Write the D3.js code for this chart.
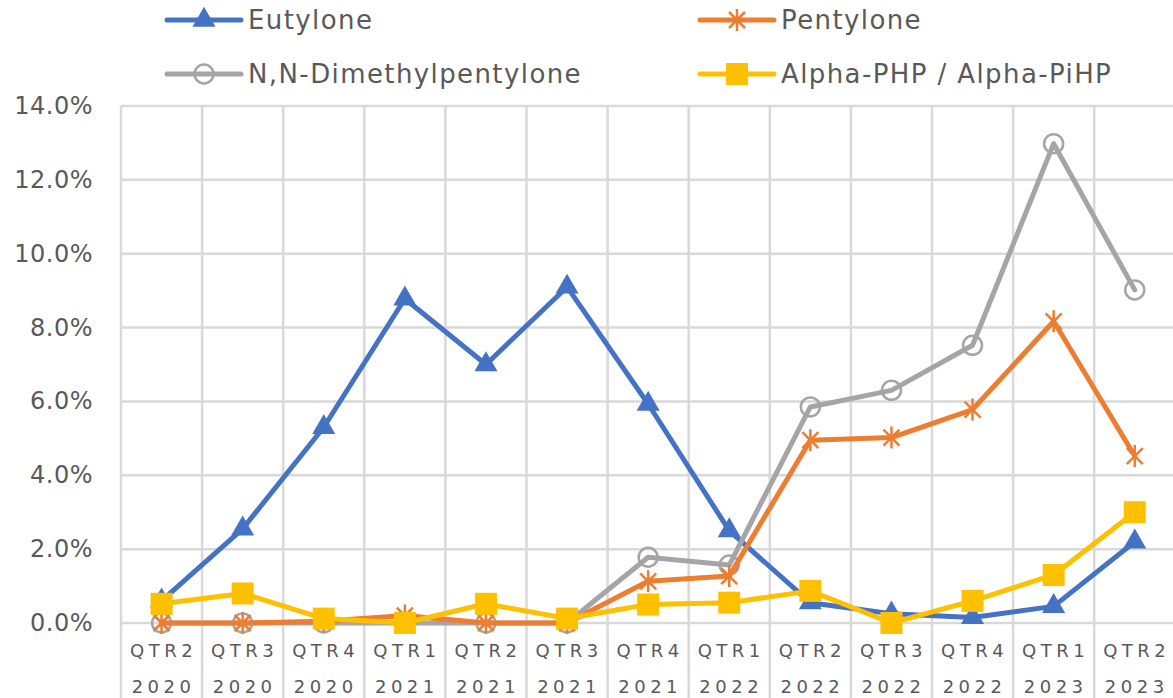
<!DOCTYPE html>
<html>
<head>
<meta charset="utf-8">
<script src="https://cdn.jsdelivr.net/npm/d3@7"></script>
<style>
  body { margin: 0; background: #fff; }
  svg text { font-family: "DejaVu Sans", sans-serif; fill: #595959; }
</style>
</head>
<body>
<svg id="chart" width="1173" height="698"></svg>
<script>
// quarters along the x axis
const quarters = ["QTR2", "QTR3", "QTR4", "QTR1", "QTR2", "QTR3", "QTR4", "QTR1", "QTR2", "QTR3", "QTR4", "QTR1", "QTR2"];
const years = ["2020", "2020", "2020", "2021", "2021", "2021", "2021", "2022", "2022", "2022", "2022", "2023", "2023"];

// share of samples, in percent
const eutylone = [0.6, 2.55, 5.3, 8.78, 7.0, 9.1, 5.93, 2.5, 0.55, 0.25, 0.15, 0.45, 2.2];
const pentylone = [0, 0, 0.05, 0.2, 0, 0, 1.13, 1.27, 4.95, 5.02, 5.78, 8.17, 4.52];
const dimethylpentylone = [0, 0, 0, 0, 0, 0, 1.78, 1.57, 5.85, 6.3, 7.52, 12.98, 9.02];
const alphaPHP = [0.52, 0.8, 0.12, 0.0, 0.52, 0.12, 0.5, 0.55, 0.87, 0.0, 0.6, 1.3, 3.0];

const yTicks = [0, 2, 4, 6, 8, 10, 12, 14];

const series = [
    { name: "Eutylone", values: eutylone, color: "#4472c4", marker: "triangle" },
    { name: "N,N-Dimethylpentylone", values: dimethylpentylone, color: "#a5a5a5", marker: "circle" },
    { name: "Pentylone", values: pentylone, color: "#ed7d31", marker: "star" },
    { name: "Alpha-PHP / Alpha-PiHP", values: alphaPHP, color: "#ffc000", marker: "square" }
];

const svg = d3.select("#chart");
const plotLeft = 121, plotTop = 106, plotBottom = 623;
const step = 81.1;

const x = d3.scaleBand()
    .domain(d3.range(quarters.length))
    .range([plotLeft, plotLeft + step * quarters.length]);
const y = d3.scaleLinear().domain([0, 14]).range([plotBottom, plotTop]);

// gridlines
svg.append("g").selectAll("line")
    .data(yTicks)
    .join("line")
    .attr("x1", plotLeft).attr("x2", 1173)
    .attr("y1", d => y(d)).attr("y2", d => y(d))
    .attr("stroke", "#d9d9d9").attr("stroke-width", 2.5);

svg.append("g").selectAll("line")
    .data(d3.range(quarters.length + 1))
    .join("line")
    .attr("x1", d => plotLeft + step * d).attr("x2", d => plotLeft + step * d)
    .attr("y1", plotTop).attr("y2", 698)
    .attr("stroke", "#d9d9d9").attr("stroke-width", 2.5);

// y labels
svg.append("g").selectAll("text")
    .data(yTicks)
    .join("text")
    .attr("x", 93)
    .attr("y", d => y(d) + 8)
    .attr("text-anchor", "end")
    .style("font-size", "24px")
    .style("letter-spacing", "0.5px")
    .text(d => d3.format(".1f")(d) + "%");

// x labels, two lines
const xl = svg.append("g").selectAll("g")
    .data(quarters)
    .join("g");
xl.append("text")
    .attr("x", (d, i) => x(i) + x.bandwidth() / 2 + 2)
    .attr("y", 657)
    .attr("text-anchor", "middle")
    .style("font-size", "18px")
    .style("letter-spacing", "4.5px")
    .text(d => d);
xl.append("text")
    .attr("x", (d, i) => x(i) + x.bandwidth() / 2 + 2)
    .attr("y", 693)
    .attr("text-anchor", "middle")
    .style("font-size", "18px")
    .style("letter-spacing", "4.5px")
    .text((d, i) => years[i]);

function drawMarker(g, type, color) {
    if (type === "triangle") {
        g.append("path")
            .attr("d", d3.symbol().type(d3.symbolTriangle).size(230)())
            .attr("fill", color);
    } else if (type === "square") {
        g.append("rect")
            .attr("x", -11).attr("y", -11).attr("width", 22).attr("height", 22)
            .attr("fill", color);
    } else if (type === "circle") {
        g.append("circle")
            .attr("r", 9.5)
            .attr("fill", "none")
            .attr("stroke", color).attr("stroke-width", 2.5);
    } else if (type === "star") {
        g.append("path")
            .attr("d", "M-8,-8L8,8M-8,8L8,-8M0,-11L0,11")
            .attr("stroke", color).attr("stroke-width", 2.5);
    }
}

const line = d3.line()
    .x((d, i) => x(i) + x.bandwidth() / 2)
    .y(d => y(d));

series.forEach(s => {
    const g = svg.append("g");
    g.append("path")
        .datum(s.values)
        .attr("d", line)
        .attr("fill", "none")
        .attr("stroke", s.color)
        .attr("stroke-width", 5)
        .attr("stroke-linejoin", "round")
        .attr("stroke-linecap", "round");
    g.selectAll("g")
        .data(s.values)
        .join("g")
        .attr("transform", (d, i) => `translate(${x(i) + x.bandwidth() / 2},${y(d)})`)
        .each(function () { drawMarker(d3.select(this), s.marker, s.color); });
});

// legend
const legendItems = [
    { s: series[0], lx: 167, ly: 20 },
    { s: series[2], lx: 700, ly: 20 },
    { s: series[1], lx: 167, ly: 74 },
    { s: series[3], lx: 700, ly: 74 }
];
const lg = svg.append("g").selectAll("g")
    .data(legendItems)
    .join("g")
    .attr("transform", d => `translate(${d.lx},${d.ly})`);
lg.append("line")
    .attr("x1", 0).attr("x2", 74)
    .attr("stroke", d => d.s.color)
    .attr("stroke-width", 5)
    .attr("stroke-linecap", "round");
lg.append("g")
    .attr("transform", "translate(37,0)")
    .each(function (d) { drawMarker(d3.select(this), d.s.marker, d.s.color); });
lg.append("text")
    .attr("x", 81)
    .attr("y", 9)
    .style("font-size", "26px")
    .style("letter-spacing", "1.4px")
    .text(d => d.s.name);
</script>
</body>
</html>
